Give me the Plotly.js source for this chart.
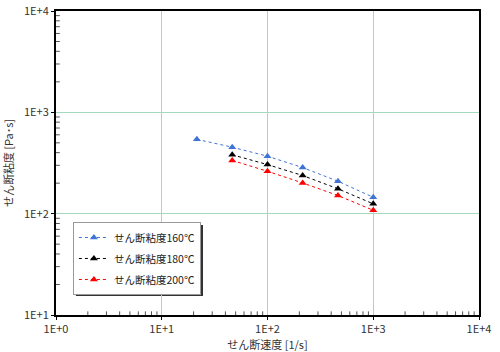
<!DOCTYPE html>
<html><head><meta charset="utf-8">
<script src="https://cdn.plot.ly/plotly-3.0.1.min.js"></script>
<style>body{margin:0;background:#fff}#c{width:500px;height:352px}</style>
</head><body><div id="c"></div>
<script>
const shearRate160 = [21.5, 46.4, 100, 215, 464, 1000];
const visc160 = [541, 453, 369, 285, 209, 145];
const shearRate180 = [46.4, 100, 215, 464, 1000];
const visc180 = [381, 305, 238, 176, 125];
const shearRate200 = [46.4, 100, 215, 464, 1000];
const visc200 = [335, 262, 201, 151, 108];
const seriesNames = ['せん断粘度160℃', 'せん断粘度180℃', 'せん断粘度200℃'];
const xTickVals = [1, 10, 100, 1000, 10000];
const xTickText = ['1E+0', '1E+1', '1E+2', '1E+3', '1E+4'];
const yTickVals = [10, 100, 1000, 10000];
const yTickText = ['1E+1', '1E+2', '1E+3', '1E+4'];

function minorVals(d0, d1) {
  const v = [];
  for (let d = d0; d < d1; d++) for (let m = 2; m <= 9; m++) v.push(m * Math.pow(10, d));
  return v;
}
const font = 'Noto Sans CJK JP, sans-serif';
function tr(x, y, name, color, g) {
  return {x: x, y: y, name: name, type: 'scatter', mode: 'lines+markers', legendgroup: g,
    line: {color: color, width: 1, dash: 'dot'},
    marker: {symbol: 'triangle-up', size: 7, color: color}};
}
const data = [
  tr(shearRate160, visc160, seriesNames[0], '#3f73d6', 'a'),
  tr(shearRate180, visc180, seriesNames[1], '#000000', 'b'),
  tr(shearRate200, visc200, seriesNames[2], '#ff0000', 'c')
];
const axisCommon = {
  type: 'log', showline: true, linecolor: '#000', linewidth: 2, mirror: true,
  showgrid: true, gridcolor: '#a5d8bf', gridwidth: 1, zeroline: false,
  ticks: 'outside', ticklen: 3, tickcolor: '#000',
  tickfont: {family: font, size: 11, color: '#333'}
};
// minor tick marks (axis decoration) along the bottom and left edges
const tickShapes = [];
minorVals(0, 4).forEach(function (v) {
  tickShapes.push({type: 'line', xref: 'x', yref: 'paper', x0: v, x1: v, y0: 0, y1: 0.012,
    line: {color: '#555', width: 1}, layer: 'above'});
});
minorVals(1, 4).forEach(function (v) {
  tickShapes.push({type: 'line', xref: 'paper', yref: 'y', x0: 0, x1: 0.009, y0: v, y1: v,
    line: {color: '#555', width: 1}, layer: 'above'});
});
const layout = {
  width: 500, height: 352,
  margin: {l: 56, r: 21, t: 11, b: 37},
  paper_bgcolor: '#fff', plot_bgcolor: '#fff',
  showlegend: true,
  xaxis: Object.assign({}, axisCommon, {range: [0, 4], tickmode: 'array', tickvals: xTickVals, ticktext: xTickText,
    title: {text: 'せん断速度 [1/s]', font: {family: font, size: 11, color: '#333'}, standoff: 2}}),
  yaxis: Object.assign({}, axisCommon, {range: [1, 4], tickmode: 'array', tickvals: yTickVals, ticktext: yTickText,
    title: {text: 'せん断粘度 [Pa･s]', font: {family: font, size: 11, color: '#333'}, standoff: 8}}),
  legend: {x: 0.04, y: 0.306, xanchor: 'left', yanchor: 'top', bgcolor: '#fff',
    bordercolor: '#999', borderwidth: 1, traceorder: 'grouped', tracegroupgap: 2, itemwidth: 30,
    font: {family: font, size: 10.5, color: '#222'}},
  shapes: [{type: 'rect', xref: 'paper', yref: 'paper', x0: 0.047, x1: 0.3475, y0: 0.0625, y1: 0.296,
    fillcolor: '#333', line: {width: 0}, layer: 'below'}].concat(tickShapes)
};
Plotly.newPlot('c', data, layout, {displayModeBar: false});
</script></body></html>
